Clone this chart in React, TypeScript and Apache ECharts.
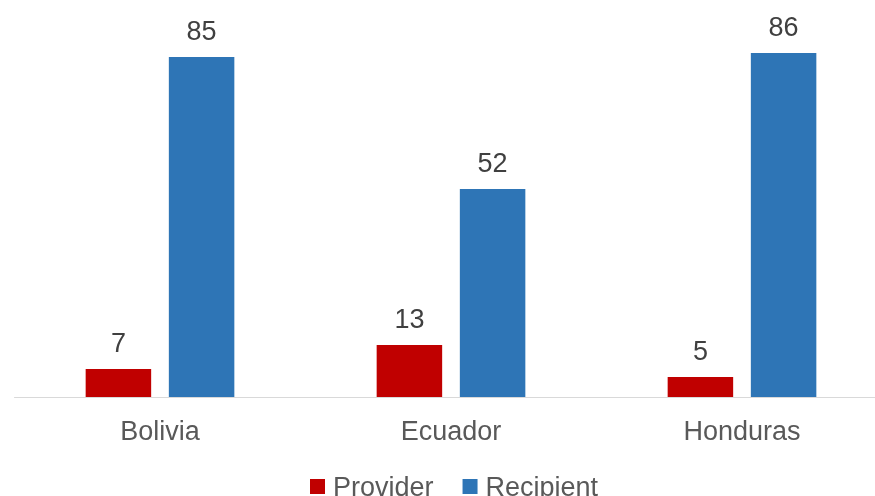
import React, { useEffect, useRef } from "react";
import * as echarts from "echarts";

const categories = ["Bolivia", "Ecuador", "Honduras"];
const providerValues = [7, 13, 5];
const recipientValues = [85, 52, 86];
const seriesNames = ["Provider", "Recipient"];

export default function App() {
  const ref = useRef<HTMLDivElement>(null);
  useEffect(() => {
    const chart = echarts.init(ref.current!, null, { renderer: "svg" });
    const font = "'Liberation Sans', Arial, sans-serif";
    const label = {
      show: true,
      position: "top",
      distance: 13,
      color: "#404040",
      fontSize: 27,
      fontFamily: font,
    };
    chart.setOption({
      animation: false,
      grid: { left: 14.5, right: 0.5, top: 37, bottom: 99, containLabel: false },
      legend: {
        data: seriesNames,
        top: 468,
        left: 305,
        icon: "rect",
        itemWidth: 15,
        itemHeight: 15,
        itemGap: 29,
        textStyle: { color: "#595959", fontSize: 27, fontFamily: font, padding: [0, 0, 0, 3] },
      },
      xAxis: {
        type: "category",
        data: categories,
        axisLine: { lineStyle: { color: "#D9D9D9", width: 1 } },
        axisTick: { show: false },
        axisLabel: { color: "#595959", fontSize: 27, fontFamily: font, margin: 20 },
      },
      yAxis: {
        type: "value",
        min: 0,
        max: 90,
        show: false,
        splitLine: { show: false },
      },
      series: [
        {
          name: seriesNames[0],
          type: "bar",
          data: providerValues,
          barWidth: 65.5,
          barGap: "27%",
          itemStyle: { color: "#C00000" },
          label,
        },
        {
          name: seriesNames[1],
          type: "bar",
          data: recipientValues,
          barWidth: 65.5,
          itemStyle: { color: "#2E75B6" },
          label,
        },
      ],
    });
    return () => chart.dispose();
  }, []);
  return (
    <div
      style={{ position: "fixed", left: 0, top: 0, width: 875, height: 496, overflow: "hidden" }}
    >
      <div ref={ref} style={{ width: 888, height: 496 }} />
    </div>
  );
}
